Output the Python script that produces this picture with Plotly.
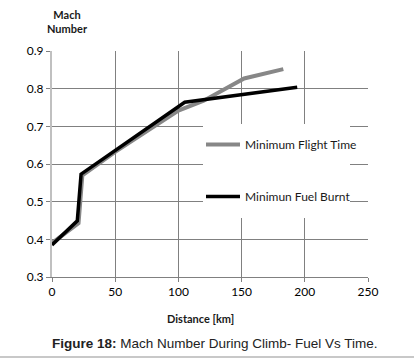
import plotly.graph_objects as go

# Data
time_x = [0, 21, 24, 50, 80, 100, 120, 130, 152, 183]
time_y = [0.39, 0.443, 0.57, 0.632, 0.698, 0.742, 0.768, 0.787, 0.827, 0.852]
fuel_x = [0, 20, 23, 105, 194]
fuel_y = [0.385, 0.449, 0.573, 0.764, 0.804]

x_ticks = [0, 50, 100, 150, 200, 250]
y_ticks = [0.3, 0.4, 0.5, 0.6, 0.7, 0.8, 0.9]

ML, MR, MT, MB = 52, 46, 51, 82
W, H = 414, 359
PW, PH = W - ML - MR, H - MT - MB

fig = go.Figure()
fig.add_trace(go.Scatter(x=time_x, y=time_y, mode="lines", name="Minimum Flight Time",
                         line=dict(color="#878787", width=4), legendgroup="a"))
fig.add_trace(go.Scatter(x=fuel_x, y=fuel_y, mode="lines", name="Minimun Fuel Burnt",
                         line=dict(color="#000000", width=3.5), legendgroup="b"))

tickfont = dict(family="Lato, Open Sans, sans-serif", size=12, color="#000000")

fig.update_layout(
    width=W, height=H,
    margin=dict(l=ML, r=MR, t=MT, b=MB, autoexpand=False),
    paper_bgcolor="white", plot_bgcolor="white",
    showlegend=True,
    legend=dict(x=(201 - ML) / PW, y=1 - (130 - MT) / PH, xanchor="left", yanchor="top",
                bgcolor="rgba(0,0,0,0)", borderwidth=0, tracegroupgap=33,
                font=dict(family="Lato, Open Sans, sans-serif", size=12, color="#1a1a1a"),
                itemwidth=34),
    xaxis=dict(range=[0, 250], tickvals=x_ticks, showgrid=True, gridcolor="#808080", gridwidth=1,
               showline=True, linecolor="#808080", linewidth=1, ticks="outside", ticklen=4,
               tickcolor="#808080", tickfont=tickfont, zeroline=False, fixedrange=True,
               automargin=False),
    yaxis=dict(range=[0.3, 0.9], tickvals=y_ticks, tickformat=".1f", showgrid=True,
               gridcolor="#808080", gridwidth=1, showline=True, linecolor="#c0c0c0", linewidth=2,
               ticks="outside", ticklen=4, tickcolor="#808080", tickfont=tickfont,
               zeroline=False, fixedrange=True, automargin=False),
    shapes=[
        dict(type="rect", xref="paper", yref="paper",
             x0=(203 - ML) / PW, x1=(350 - ML) / PW,
             y0=1 - (218 - MT) / PH, y1=1 - (124 - MT) / PH,
             fillcolor="white", line=dict(width=0), layer="above"),
        dict(type="line", xref="paper", yref="paper",
             x0=-ML / PW, x1=(W - ML) / PW,
             y0=1 - (357 - MT) / PH, y1=1 - (357 - MT) / PH,
             line=dict(color="#c8c8c8", width=2)),
    ],
    annotations=[
        dict(text="<b>Mach<br>Number</b>", xref="paper", yref="paper",
             x=(67 - ML) / PW, y=1 - (21 - MT) / PH, showarrow=False,
             font=dict(family="Lato, Open Sans, sans-serif", size=11, color="#1a1a1a"),
             xanchor="center", yanchor="middle", align="center"),
        dict(text="<b>Distance [km]</b>", xref="paper", yref="paper",
             x=(200 - ML) / PW, y=1 - (318 - MT) / PH, showarrow=False,
             font=dict(family="Lato, Open Sans, sans-serif", size=11, color="#1a1a1a"),
             xanchor="center", yanchor="middle"),
        dict(text="<b>Figure 18:</b> Mach Number During Climb- Fuel Vs Time.",
             xref="paper", yref="paper",
             x=(50 - ML) / PW, y=1 - (343 - MT) / PH, showarrow=False,
             font=dict(family="Liberation Sans, Arial, sans-serif", size=13.5, color="#222222"),
             xanchor="left", yanchor="middle"),
    ],
)

fig.write_html("out.html", config={"displayModeBar": False},
               post_script="document.body.style.margin='0';")
